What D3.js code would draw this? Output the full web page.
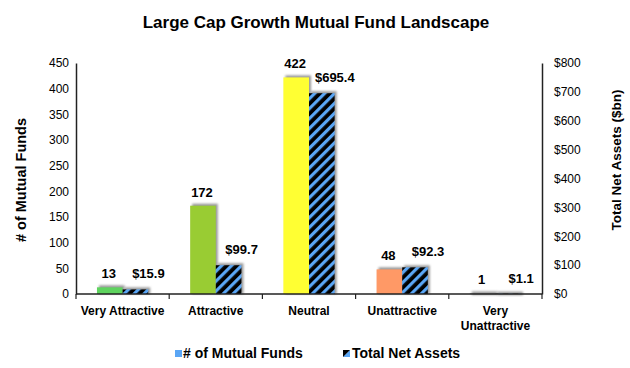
<!DOCTYPE html>
<html><head><meta charset="utf-8">
<script src="https://cdn.jsdelivr.net/npm/d3@7"></script>
<style>body{margin:0;background:#fff;} text{font-family:Arial,"Liberation Sans",sans-serif;}</style>
</head><body>
<svg id="c" width="630" height="368"></svg>
<script>
const categories = ["Very Attractive","Attractive","Neutral","Unattractive","Very Unattractive"];
const fundCounts = [13,172,422,48,1];
const netAssets = [15.9,99.7,695.4,92.3,1.1];
const barColors = ["#5ed35e","#99cc33","#ffff33","#ff9966","#808080"];
const leftTicks = [0,50,100,150,200,250,300,350,400,450];
const rightTicks = [0,100,200,300,400,500,600,700,800];

const svg = d3.select("#c");
const m = {l:76, r:542, t:63, b:294};
const defs = svg.append("defs");
const pat = defs.append("pattern").attr("id","hatch").attr("patternUnits","userSpaceOnUse")
  .attr("width",7).attr("height",7).attr("patternTransform","rotate(45)");
pat.append("rect").attr("width",7).attr("height",7).attr("fill","#000");
pat.append("rect").attr("width",3.2).attr("height",7).attr("fill","#5aa6f5");
const f = defs.append("filter").attr("id","sh").attr("x","-50%").attr("y","-50%").attr("width","200%").attr("height","200%");
f.append("feGaussianBlur").attr("stdDeviation",1.2);

const x = d3.scaleBand().domain(categories).range([m.l,m.r]).paddingInner(0.45).paddingOuter(0.225);
const yL = d3.scaleLinear().domain([0,450]).range([m.b,m.t]);
const yR = d3.scaleLinear().domain([0,800]).range([m.b,m.t]);
const bw = x.bandwidth()/2;

svg.append("text").attr("x",316).attr("y",28).attr("text-anchor","middle")
  .attr("font-size",17).attr("font-weight","bold").text("Large Cap Growth Mutual Fund Landscape");

const g = svg.append("g");
categories.forEach((c,i)=>{
  const x0 = x(c);
  const h1 = m.b - yL(fundCounts[i]), h2 = m.b - yR(netAssets[i]);
  g.append("rect").attr("x",x0+2).attr("y",yL(fundCounts[i])-2).attr("width",bw).attr("height",Math.max(h1,1.5)+2)
    .attr("fill","#999").attr("filter","url(#sh)");
  g.append("rect").attr("x",x0+bw+2).attr("y",yR(netAssets[i])-2).attr("width",bw).attr("height",Math.max(h2,1.5)+2)
    .attr("fill","#999").attr("filter","url(#sh)");
});
categories.forEach((c,i)=>{
  const x0 = x(c);
  g.append("rect").attr("x",x0).attr("y",yL(fundCounts[i])).attr("width",bw)
    .attr("height",m.b-yL(fundCounts[i])).attr("fill",barColors[i]);
  g.append("rect").attr("x",x0+bw).attr("y",yR(netAssets[i])).attr("width",bw)
    .attr("height",m.b-yR(netAssets[i])).attr("fill","url(#hatch)");
  g.append("text").attr("x",x0+bw/2-1).attr("y",yL(fundCounts[i])-9).attr("text-anchor","middle")
    .attr("font-size",13).attr("font-weight","bold").text(fundCounts[i]);
  g.append("text").attr("x",x0+bw*1.5+13).attr("y",yR(netAssets[i])-11).attr("text-anchor","middle")
    .attr("font-size",13).attr("font-weight","bold").text("$"+netAssets[i].toFixed(1));
});

const axL = svg.append("g").attr("transform",`translate(${m.l},0)`)
  .call(d3.axisLeft(yL).tickValues(leftTicks).tickSize(0).tickPadding(7));
const axR = svg.append("g").attr("transform",`translate(${m.r},0)`)
  .call(d3.axisRight(yR).tickValues(rightTicks).tickSize(0).tickPadding(12).tickFormat(d=>"$"+d));
[axL,axR].forEach(a=>{
  a.select(".domain").attr("stroke","#222").attr("stroke-width",1.5);
  a.selectAll("text").attr("font-size",12).attr("fill","#000").attr("font-family","Arial,'Liberation Sans',sans-serif");
});
const axB = svg.append("g").attr("transform",`translate(0,${m.b})`);
axB.append("line").attr("x1",m.l).attr("x2",m.r).attr("stroke","#222").attr("stroke-width",1.5);
const step = x.step();
for(let i=0;i<=categories.length;i++){
  const xx = m.l + i*step;
  axB.append("line").attr("x1",xx).attr("x2",xx).attr("y1",0).attr("y2",5).attr("stroke","#222").attr("stroke-width",1.2);
}
categories.forEach(c=>{
  const cx = x(c)+x.bandwidth()/2;
  const t = axB.append("text").attr("text-anchor","middle").attr("font-size",12).attr("font-weight","bold");
  if(c==="Very Unattractive"){
    t.append("tspan").attr("x",cx).attr("y",21).text("Very");
    t.append("tspan").attr("x",cx).attr("y",36).text("Unattractive");
  } else {
    t.attr("x",cx).attr("y",21).text(c);
  }
});

svg.append("text").attr("transform","translate(26,180) rotate(-90)").attr("text-anchor","middle")
  .attr("font-size",14.5).attr("font-weight","bold").text("# of Mutual Funds");
svg.append("text").attr("transform","translate(621,160) rotate(-90)").attr("text-anchor","middle")
  .attr("font-size",13.5).attr("font-weight","bold").text("Total Net Assets ($bn)");

const lg = svg.append("g");
lg.append("rect").attr("x",175).attr("y",350).attr("width",7).attr("height",7).attr("fill","#5aa6f5");
lg.append("text").attr("x",183).attr("y",358).attr("font-size",14).attr("font-weight","bold").text("# of Mutual Funds");
lg.append("path").attr("d","M343,357 L350,350 L350,357 Z").attr("fill","#5aa6f5");
lg.append("path").attr("d","M343,350 L350,350 L343,357 Z").attr("fill","#000");
lg.append("text").attr("x",352).attr("y",358).attr("font-size",14).attr("font-weight","bold").text("Total Net Assets");
</script>
</body></html>
